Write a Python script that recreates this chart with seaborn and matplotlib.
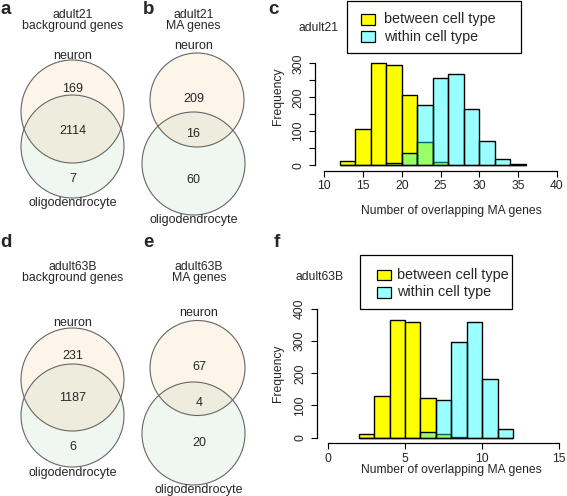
import numpy as np
import pandas as pd
import matplotlib
matplotlib.use("Agg")
import matplotlib.pyplot as plt
from matplotlib.patches import Circle, Rectangle
import seaborn as sns

# Conteos de los diagramas de Venn: [solo neuron, ambos, solo oligodendrocyte]
adult21_bg = [169, 2114, 7]
adult21_ma = [209, 16, 60]
adult63b_bg = [231, 1187, 6]
adult63b_ma = [67, 4, 20]

# Histograma adult21 (bins de 2)
c_edges = [12, 14, 16, 18, 20, 22, 24, 26, 28, 30, 32, 34, 36]
c_between = [11, 107, 301, 296, 206, 67, 8, 1, 0, 0, 0, 0]
c_within = [0, 0, 0, 7, 36, 176, 256, 268, 166, 70, 18, 2]

# Histograma adult63B (bins de 1)
f_edges = [2, 3, 4, 5, 6, 7, 8, 9, 10, 11, 12]
f_between = [12, 128, 365, 359, 122, 12, 2, 0, 0, 0]
f_within = [0, 0, 0, 0, 16, 117, 298, 359, 183, 27]

legend_labels = ["between cell type", "within cell type"]

sns.set_theme(style="white")
plt.rcParams["font.family"] = ["Liberation Sans", "DejaVu Sans"]

W, H = 567, 496
fig = plt.figure(figsize=(W / 100, H / 100), dpi=100)

# Capa en pixeles para Venn, letras y leyendas
ov = fig.add_axes([0, 0, 1, 1], zorder=0)
ov.set_xlim(0, W)
ov.set_ylim(H, 0)
ov.axis("off")


def venn(counts, title, neu, oli, ys, xs):
    # neu / oli: (cx, cy, r) en pixeles
    ov.add_patch(Circle(neu[:2], neu[2], facecolor="#F5A040", alpha=0.11, lw=0))
    ov.add_patch(Circle(oli[:2], oli[2], facecolor="#60B060", alpha=0.09, lw=0))
    for c in (neu, oli):
        ov.add_patch(Circle(c[:2], c[2], fill=False, edgecolor="#666666", lw=0.8))
    ov.text(xs, ys[0], title, ha="center", va="center", fontsize=8.8, linespacing=1.0)
    textos = ["neuron", str(counts[0]), str(counts[1]), str(counts[2]), "oligodendrocyte"]
    for t, y in zip(textos, ys[1:]):
        ov.text(xs, y, t, ha="center", va="center", fontsize=9)


venn(adult21_bg, "adult21\nbackground genes", (72.5, 111.5, 51.5), (72.5, 146.5, 51.5),
     [20.5, 56, 88.5, 130.5, 178.5, 203], 72.5)
venn(adult21_ma, "adult21\nMA genes", (197, 100, 47), (193.5, 163.5, 51.5),
     [20.5, 46, 98.5, 134, 180, 220.5], 193.5)
venn(adult63b_bg, "adult63B\nbackground genes", (72.5, 379.5, 51.5), (72.5, 415.5, 51.5),
     [272.5, 322.7, 356, 398, 446.5, 472.7], 72.5)
venn(adult63b_ma, "adult63B\nMA genes", (197.5, 368, 47.5), (193.5, 433.5, 51.5),
     [272.5, 313.3, 367.5, 403, 443, 489.5], 199)

for letra, x, y in [("a", 0.5, 14), ("b", 143, 14), ("c", 268, 14),
                    ("d", 0.5, 247), ("e", 143, 247), ("f", 274, 247)]:
    ov.text(x, y, letra, fontsize=13.5, fontweight="bold", ha="left", va="baseline")


def px_axes(left, right, top, bottom):
    return fig.add_axes([left / W, 1 - bottom / H, (right - left) / W, (bottom - top) / H], zorder=1)


def hist_panel(ax, edges, between, within, xlim, ylim, xb, yb, xticks, yticks, ylabels, xlab_pos, ylab_pos):
    left = edges[:-1]
    df_b = pd.DataFrame({"x": left, "n": between})
    df_w = pd.DataFrame({"x": left, "n": within})
    sns.histplot(data=df_b, x="x", weights="n", bins=edges, color="yellow", alpha=1,
                 edgecolor="black", linewidth=1.0, ax=ax)
    sns.histplot(data=df_w, x="x", weights="n", bins=edges, color="cyan", alpha=0.4,
                 edgecolor="black", linewidth=1.0, ax=ax)
    ax.set_facecolor("none")
    ax.set_xlim(*xlim)
    ax.set_ylim(*ylim)
    for s in ("top", "right"):
        ax.spines[s].set_visible(False)
    ax.spines["left"].set_bounds(*yb)
    ax.spines["bottom"].set_bounds(*xb)
    for s in ("left", "bottom"):
        ax.spines[s].set_color("black")
        ax.spines[s].set_linewidth(0.9)
    ax.set_xticks(xticks)
    ax.set_yticks(yticks)
    ax.set_yticklabels(ylabels, rotation=90, va="center")
    ax.tick_params(axis="both", direction="out", length=4.2, width=0.8, color="black",
                   labelsize=8.7, pad=2.5, left=True, bottom=True)
    ax.tick_params(axis="y", pad=3.5)
    ax.set_xlabel("Number of overlapping MA genes", fontsize=8.7)
    ax.set_ylabel("Frequency", fontsize=8.7)
    ax.xaxis.set_label_coords(xlab_pos[0] / W, 1 - xlab_pos[1] / H, transform=fig.transFigure)
    ax.yaxis.set_label_coords(ylab_pos[0] / W, 1 - ylab_pos[1] / H, transform=fig.transFigure)
    ax.xaxis.label.set_va("center")
    ax.yaxis.label.set_va("center")


def leyenda(box, sq_x, rows, txt_x):
    x0, x1, y0, y1 = box
    ov.add_patch(Rectangle((x0, y0), x1 - x0, y1 - y0, fill=False, edgecolor="black", lw=0.9, zorder=5))
    colores = ["yellow", (0, 1, 1, 0.4)]
    for lab, col, y in zip(legend_labels, colores, rows):
        ov.add_patch(Rectangle((sq_x, y - 5.3), 14, 10.6, facecolor=col, edgecolor="black", lw=0.9, zorder=5))
        ov.text(txt_x, y, lab, fontsize=10.4, ha="left", va="center", zorder=5)


# Panel c
ax_c = px_axes(315, 567, 24, 170.5)
c_ylabels = ["0", "", "100", "", "200", "", "300"]
hist_panel(ax_c, c_edges, c_between, c_within, (8.8, 41.3), (-16, 416), (10, 40), (0, 300),
           [10, 15, 20, 25, 30, 35, 40], [0, 50, 100, 150, 200, 250, 300], c_ylabels,
           (451.7, 210.7), (278.3, 96))
ov.text(298.3, 28.3, "adult21", fontsize=8.7, ha="left", va="center")
leyenda((346.7, 521, 0.7, 53.3), 360.5, [19.3, 36.7], 384.3)

# Panel f
ax_f = px_axes(316.7, 567, 304, 443.3)
hist_panel(ax_f, f_edges, f_between, f_within, (-0.72, 15.5), (-18, 416), (0, 15), (0, 400),
           [0, 5, 10, 15], [0, 100, 200, 300, 400], ["0", "100", "200", "300", "400"],
           (451.7, 470), (278.3, 373.5))
ov.text(295, 277, "adult63B", fontsize=8.7, ha="left", va="center")
leyenda((360, 512.3, 255, 309.3), 376.7, [275, 292.3], 396.7)

fig.savefig("out.png", dpi=100)
